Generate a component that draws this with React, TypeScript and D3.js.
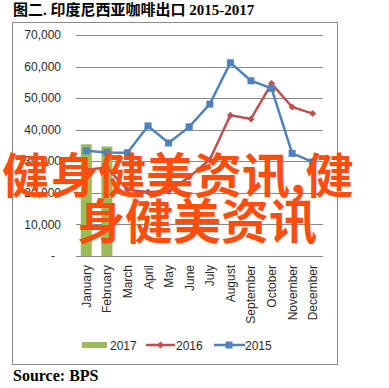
import React from "react";
import * as d3 from "d3";

const months = ["January","February","March","April","May","June","July","August","September","October","November","December"];
const values2017: (number | null)[] = [35400, 34700, null, null, null, null, null, null, null, null, null, null];
const values2016 = [27300, 28000, 21000, 20300, 20500, 25000, 30500, 44600, 43400, 54600, 47200, 45100];
const values2015 = [33300, 32800, 32700, 41200, 35800, 40900, 48100, 61200, 55500, 53100, 32500, 29800];
const yTicks = [0, 10000, 20000, 30000, 40000, 50000, 60000, 70000];
const legendLabels = ["2017", "2016", "2015"];

const C2017 = "#9BBB59";
const C2016 = "#C0504D";
const C2015 = "#4F81BD";

export default function App() {
  const x = d3.scaleBand<string>().domain(months).range([76, 323]).padding(0);
  const y = d3.scaleLinear().domain([0, 70000]).range([256, 35]);
  const cx = (m: string) => (x(m) as number) + x.bandwidth() / 2;
  const line = d3.line<number>().x((_, i) => cx(months[i])).y((d) => y(d));
  const fmt = d3.format(",");
  const barW = 11;
  const sans = "'Liberation Sans', Arial, sans-serif";

  return (
    <svg width={389} height={388} style={{ position: "absolute", left: 0, top: 0, background: "#fff" }}>
      <rect x={0} y={0} width={389} height={388} fill="#fff" />
      <text x={13} y={15} fontFamily="'Liberation Serif', 'Noto Sans CJK SC', serif" fontWeight="bold" fontSize={15} fill="#000">
        图二. 印度尼西亚咖啡出口 2015-2017
      </text>
      <rect x={12.5} y={22.5} width={325} height={342} fill="none" stroke="#8c8c8c" strokeWidth={1} />
      {yTicks.map((t) => (
        <g key={t}>
          <line x1={76} x2={323} y1={Math.round(y(t)) + 0.5} y2={Math.round(y(t)) + 0.5} stroke="#8a8a8a" strokeWidth={1} />
          <text x={t === 0 ? 55 : 61} y={y(t)} dy="0.35em" textAnchor="end" fontFamily={sans} fontSize={12} fill="#2b2b2b">
            {t === 0 ? "-" : fmt(t)}
          </text>
        </g>
      ))}
      {months.map((m, i) =>
        values2017[i] != null ? (
          <rect key={m} x={cx(m) - barW / 2} y={y(values2017[i] as number)} width={barW} height={y(0) - y(values2017[i] as number)} fill={C2017} />
        ) : null
      )}
      <path d={line(values2016) || ""} fill="none" stroke={C2016} strokeWidth={2.5} />
      {values2016.map((v, i) => {
        const px = cx(months[i]), py = y(v);
        return <path key={i} d={`M${px},${py - 3.5}L${px + 3.5},${py}L${px},${py + 3.5}L${px - 3.5},${py}Z`} fill={C2016} />;
      })}
      <path d={line(values2015) || ""} fill="none" stroke={C2015} strokeWidth={2.5} />
      {values2015.map((v, i) => (
        <rect key={i} x={cx(months[i]) - 3.5} y={y(v) - 3.5} width={7} height={7} fill={C2015} />
      ))}
      {months.map((m) => (
        <text key={m} transform={`translate(${cx(m) + 4.5},265) rotate(-90)`} textAnchor="end" fontFamily={sans} fontSize={12} fill="#2b2b2b">
          {m}
        </text>
      ))}
      <g fontFamily={sans} fontSize={12} fill="#2b2b2b">
        <rect x={82} y={342} width={25} height={6} fill={C2017} />
        <text x={110} y={349.5}>{legendLabels[0]}</text>
        <line x1={146} x2={175} y1={345} y2={345} stroke={C2016} strokeWidth={2.5} />
        <path d="M160.5,341.5L164,345L160.5,348.5L157,345Z" fill={C2016} />
        <text x={176} y={349.5}>{legendLabels[1]}</text>
        <line x1={214} x2={245} y1={345} y2={345} stroke={C2015} strokeWidth={2.5} />
        <rect x={225.5} y={341.5} width={7} height={7} fill={C2015} />
        <text x={245} y={349.5}>{legendLabels[2]}</text>
      </g>
      <text x={13} y={381} fontFamily="'Liberation Serif', serif" fontWeight="bold" fontSize={16} fill="#000">
        Source: BPS
      </text>
      <g fontFamily="'Noto Sans CJK SC', sans-serif" fontWeight="bold" fontSize={48} fill="#FF4D0D">
        <text x={2} y={193}>健身健美资讯,健</text>
        <text x={77} y={239}>身健美资讯</text>
      </g>
    </svg>
  );
}
